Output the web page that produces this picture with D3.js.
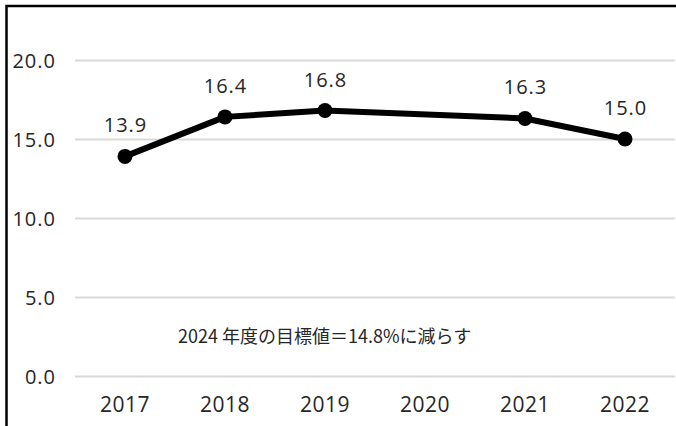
<!DOCTYPE html>
<html>
<head>
<meta charset="utf-8">
<script src="https://cdn.jsdelivr.net/npm/d3@7"></script>
<style>
  body { margin: 0; background: #fff; }
  svg text { font-family: "Open Sans", "Noto Sans", sans-serif; fill: #262626; }
  .note { font-family: "Noto Sans CJK JP", sans-serif; }
</style>
</head>
<body>
<div id="chart"></div>
<script>
const years = ["2017", "2018", "2019", "2020", "2021", "2022"];
const values = [13.9, 16.4, 16.8, null, 16.3, 15.0];
const yTicks = [0, 5, 10, 15, 20];
const note = "2024 年度の目標値＝14.8%に減らす";

const w = 676,
  h = 426;

const svg = d3
  .select("#chart")
  .append("svg")
  .attr("width", w)
  .attr("height", h);

// frame (left + top edges visible)
svg
  .append("rect")
  .attr("x", 6.5)
  .attr("y", 6)
  .attr("width", w + 20)
  .attr("height", h + 20)
  .attr("fill", "none")
  .attr("stroke", "#000")
  .attr("stroke-width", 2.5);

const x = d3.scaleBand().domain(years).range([75, 675]).padding(0);
const y = d3.scaleLinear().domain([0, 20]).range([376, 60]);
const cx = (d) => x(d) + x.bandwidth() / 2;

// y axis: gridlines + labels
const yAxis = d3
  .axisLeft(y)
  .tickValues(yTicks)
  .tickSize(-600)
  .tickPadding(20)
  .tickFormat(d3.format(".1f"));

const gy = svg
  .append("g")
  .attr("transform", "translate(75,0)")
  .call(yAxis);
gy.select(".domain").remove();
gy.selectAll(".tick line").attr("stroke", "#d9d9d9").attr("stroke-width", 2);
gy.selectAll(".tick text")
  .attr("x", -19)
  .attr("dy", "0.35em")
  .style("font-size", "20px")
  .style("letter-spacing", "1px");

// x axis labels
const xAxis = d3.axisBottom(x).tickSize(0).tickPadding(21);
const gx = svg
  .append("g")
  .attr("transform", "translate(0,376)")
  .call(xAxis);
gx.select(".domain").remove();
gx.selectAll(".tick text")
  .style("font-size", "21px")
  .style("letter-spacing", "0.5px");

const series = years
  .map((yr, i) => ({ yr: yr, v: values[i] }))
  .filter((d) => d.v != null);

const line = d3
  .line()
  .x((d) => cx(d.yr))
  .y((d) => y(d.v));

svg
  .append("path")
  .datum(series)
  .attr("d", line)
  .attr("fill", "none")
  .attr("stroke", "#000")
  .attr("stroke-width", 6)
  .attr("stroke-linejoin", "round");

svg
  .selectAll("circle.pt")
  .data(series)
  .enter()
  .append("circle")
  .attr("class", "pt")
  .attr("cx", (d) => cx(d.yr))
  .attr("cy", (d) => y(d.v))
  .attr("r", 7.5)
  .attr("fill", "#000");

svg
  .selectAll("text.lbl")
  .data(series)
  .enter()
  .append("text")
  .attr("class", "lbl")
  .attr("x", (d) => cx(d.yr) + 0.5)
  .attr("y", (d) => y(d.v) - 24)
  .attr("text-anchor", "middle")
  .style("font-size", "20px")
  .style("letter-spacing", "1px")
  .text((d) => d.v.toFixed(1));

svg
  .append("text")
  .attr("class", "note")
  .attr("x", 178)
  .attr("y", 343)
  .style("font-size", "18px")
  .text(note);
</script>
</body>
</html>
